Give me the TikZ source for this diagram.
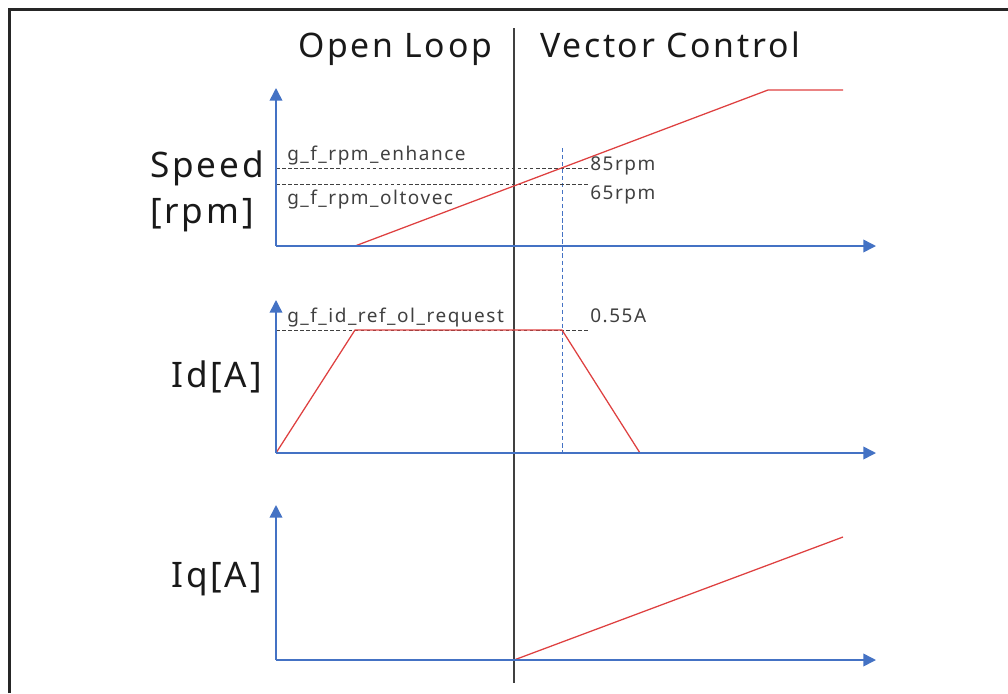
\documentclass[tikz,border=0pt]{standalone}
\usepackage{fontspec}
\setmainfont{Noto Sans}[LetterSpace=8]
\usepackage{xcolor}
\usetikzlibrary{arrows.meta, positioning}

\definecolor{axisblue}{RGB}{68,114,196}
\definecolor{sigred}{RGB}{222,64,64}
\definecolor{labelgray}{RGB}{64,64,64}

\begin{document}
\begin{tikzpicture}[x=0.025cm, y=-0.025cm,
    % Styles
    axis/.style={
        draw=axisblue,
        line width=1.1pt,
        -{Triangle[length=9pt, width=9pt]}
    },
    signal/.style={
        draw=sigred,
        line width=0.9pt
    },
    refline/.style={
        draw=black!75,
        line width=0.6pt,
        dash pattern=on 2.5pt off 1.8pt
    },
    marker/.style={
        draw=axisblue,
        line width=0.6pt,
        dash pattern=on 3pt off 2pt
    },
    divider/.style={
        draw=black!75,
        line width=0.8pt
    },
    frameline/.style={
        draw=black!85,
        line width=1.8pt
    },
    title/.style={
        font=\fontsize{24}{29}\selectfont,
        text=black!90,
        inner sep=0pt,
        anchor=base
    },
    quantity/.style={
        font=\fontsize{25}{30}\selectfont,
        text=black!90,
        inner sep=0pt
    },
    tag/.style={
        font=\fontsize{13.5}{16}\selectfont,
        text=labelgray,
        inner sep=0pt,
        anchor=base west
    }
]
\useasboundingbox (0,0) rectangle (1008,693);

% Frame
\coordinate (frameBL) at (9.5,693);
\coordinate (frameTL) at (9.5,9.5);
\coordinate (frameTR) at (1008,9.5);
\draw[frameline] (frameBL) -- (frameTL) -- (frameTR);

% Titles
\node[title] (olTitle) at (395,57) {Open Loop};
\node[title] (vcTitle) at (670,57) {Vector Control};

% Divider and switch marker
\coordinate (divTop) at (514,28);
\coordinate (divBot) at (514,683);
\draw[divider] (divTop) -- (divBot);
\coordinate (vecTop) at (562,148);
\coordinate (vecBot) at (562,453);
\draw[marker] (vecTop) -- (vecBot);

% Speed section
\coordinate (spdO) at (276,246);
\coordinate (spdY) at (276,88);
\coordinate (spdX) at (876,246);
\coordinate (hiRef0) at (276,168);
\coordinate (hiRef1) at (588,168);
\coordinate (loRef0) at (276,184);
\coordinate (loRef1) at (588,184);
\draw[refline] (hiRef0) -- (hiRef1);
\draw[refline] (loRef0) -- (loRef1);
\coordinate (spdA) at (355,246);
\coordinate (spdB) at (768,90);
\coordinate (spdC) at (843,90);
\draw[signal] (spdA) -- (spdB) -- (spdC);
\draw[axis] (spdO) -- (spdY);
\draw[axis] (spdO) -- (spdX);

\node[quantity, anchor=base west] (spdLabel) at (150,177) {Speed};
\node[quantity, anchor=base west] (rpmLabel) at (150,223) {[rpm]};
\node[tag] (enhLabel) at (287,160) {g\_f\_rpm\_enhance};
\node[tag] (o2vLabel) at (287,204) {g\_f\_rpm\_oltovec};
\node[tag] (hiVal) at (590,170) {85rpm};
\node[tag] (loVal) at (590,199) {65rpm};

% Id section
\coordinate (idO) at (276,453);
\coordinate (idY) at (276,300);
\coordinate (idX) at (876,453);
\coordinate (idRef0) at (276,330);
\coordinate (idRef1) at (588,330);
\draw[refline] (idRef0) -- (idRef1);
\coordinate (idA) at (355,330);
\coordinate (idB) at (562,330);
\coordinate (idC) at (640,453);
\draw[signal] (idO) -- (idA) -- (idB) -- (idC);
\draw[axis] (idO) -- (idY);
\draw[axis] (idO) -- (idX);

\node[quantity, anchor=base east] (idLabel) at (262,387) {Id[A]};
\node[tag] (reqLabel) at (287,322) {g\_f\_id\_ref\_ol\_request};
\node[tag] (reqVal) at (590,322) {0.55A};

% Iq section
\coordinate (iqO) at (276,660);
\coordinate (iqY) at (276,505);
\coordinate (iqX) at (876,660);
\coordinate (iqA) at (514,660);
\coordinate (iqB) at (843,537);
\draw[signal] (iqA) -- (iqB);
\draw[axis] (iqO) -- (iqY);
\draw[axis] (iqO) -- (iqX);

\node[quantity, anchor=base east] (iqLabel) at (262,587) {Iq[A]};

\end{tikzpicture}
\end{document}
